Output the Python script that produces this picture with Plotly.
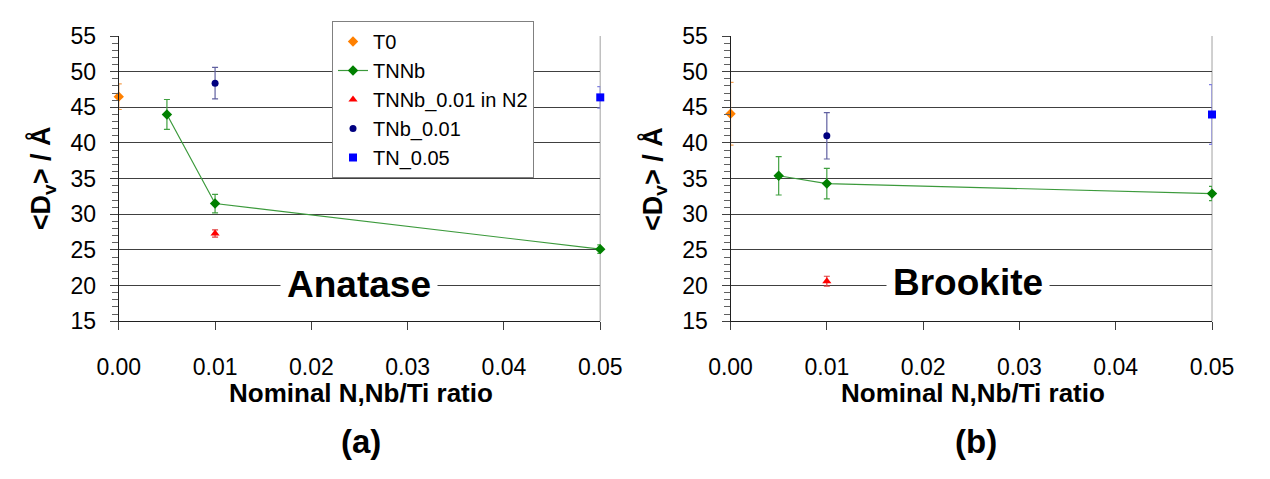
import plotly.graph_objects as go

# ---------------- data ----------------
x_t0 = [0.0]
x_tnnb = [0.005, 0.01, 0.05]
x_n2 = [0.01]
x_tnb = [0.01]
x_tn = [0.05]

# Anatase
t0_a = [46.5]; t0_a_err = [1.8]
tnnb_a = [44.0, 31.5, 25.1]; tnnb_a_err = [2.1, 1.3, 0.6]
n2_a = [27.3]; n2_a_err = [0.5]
tnb_a = [48.4]; tnb_a_err = [2.2]
tn_a = [46.4]; tn_a_err = [1.5]

# Brookite
t0_b = [44.1]; t0_b_err = [4.4]
tnnb_b = [35.4, 34.3, 32.9]; tnnb_b_err = [2.7, 2.15, 1.0]
n2_b = [20.6]; n2_b_err = [0.7]
tnb_b = [41.0]; tnb_b_err = [3.25]
tn_b = [44.0]; tn_b_err = [4.2]

x_ticks = [0.0, 0.01, 0.02, 0.03, 0.04, 0.05]
x_ticklabels = ["0.00", "0.01", "0.02", "0.03", "0.04", "0.05"]
y_ticks = [15, 20, 25, 30, 35, 40, 45, 50, 55]

FONT = "Liberation Sans, Arial, sans-serif"
# the page body has an 8px default margin: size the figure so the page is exactly 1270x479
OFF = 8
W, H = 1270 - 2 * OFF, 479 - 2 * OFF

def px(x):  # screen x -> paper fraction
    return (x - OFF) / W

def py(y):  # screen y -> paper fraction
    return 1 - (y - OFF) / H

series = [
    ("T0", x_t0, t0_a, t0_a_err, t0_b, t0_b_err, "diamond", "#FF8000", "#F5A050", "markers", 8),
    ("TNNb", x_tnnb, tnnb_a, tnnb_a_err, tnnb_b, tnnb_b_err, "diamond", "#008000", "#40A040", "lines+markers", 8),
    ("TNNb_0.01 in N2", x_n2, n2_a, n2_a_err, n2_b, n2_b_err, "triangle-up", "#FF0000", "#E04040", "markers", 8),
    ("TNb_0.01", x_tnb, tnb_a, tnb_a_err, tnb_b, tnb_b_err, "circle", "#000080", "#6060A0", "markers", 7),
    ("TN_0.05", x_tn, tn_a, tn_a_err, tn_b, tn_b_err, "square", "#0000FF", "#8080E0", "markers", 8),
]

fig = go.Figure()
for (name, xs, ya, ea, yb, eb, sym, col, ecol, mode, size) in series:
    for panel, (ys, es) in enumerate([(ya, ea), (yb, eb)]):
        fig.add_trace(go.Scatter(
            x=xs, y=ys, name=name, mode=mode,
            xaxis="x" if panel == 0 else "x2",
            yaxis="y" if panel == 0 else "y2",
            marker=dict(symbol=sym, color=col, size=size, line=dict(width=0)),
            line=dict(color="#3C9A3C", width=1.2),
            error_y=dict(type="data", array=es, visible=True, color=ecol,
                         thickness=1.2, width=3),
            showlegend=(panel == 0), cliponaxis=False,
        ))

pl_left = (100, 599)
pl_right = (734, 1233)
y_top, y_bot = 24, 326
ydom = [py(y_bot), py(y_top)]

def xaxis(dom):
    return dict(domain=[px(dom[0]), px(dom[1])], range=[0, 0.05],
                tickvals=x_ticks, ticktext=x_ticklabels,
                showgrid=False, zeroline=False, showline=True,
                linecolor="#202020", linewidth=1,
                ticks="outside", ticklen=8, tickcolor="#404040",
                tickfont=dict(family=FONT, size=23, color="black"),
                ticklabelstandoff=17)

def yaxis(anchor):
    return dict(domain=ydom, range=[15, 55], tickvals=y_ticks, anchor=anchor,
                showgrid=True, gridcolor="#404040", gridwidth=1,
                zeroline=False, showline=True, linecolor="#202020", linewidth=1,
                ticks="outside", ticklen=8, tickcolor="#404040",
                minor=dict(dtick=1, ticks="outside", ticklen=6,
                           tickcolor="#606060", showgrid=False),
                tickfont=dict(family=FONT, size=23, color="black"),
                ticklabelstandoff=9)

fig.update_layout(
    width=W, height=H,
    margin=dict(l=0, r=0, t=0, b=0),
    paper_bgcolor="white", plot_bgcolor="white",
    xaxis=dict(**xaxis(pl_left), anchor="y"),
    yaxis=yaxis("x"),
    xaxis2=dict(**xaxis(pl_right), anchor="y2"),
    yaxis2=yaxis("x2"),
    showlegend=True,
    legend=dict(x=px(321), y=1, xanchor="left", yanchor="top",
                bgcolor="white", bordercolor="#808080", borderwidth=1,
                font=dict(family=FONT, size=20, color="black"),
                tracegroupgap=0, itemwidth=30),
)

for xr, yr in [("x domain", "y domain"), ("x2 domain", "y2 domain")]:
    fig.add_shape(type="line", xref=xr, yref=yr, x0=1, x1=1, y0=0, y1=1,
                  line=dict(color="#C0C0C0", width=1.5), layer="below")

ann = []
C = dict(xanchor="center", yanchor="middle", showarrow=False)
ann.append(dict(text="<b>Anatase</b>", xref="x domain", yref="y", x=0.498, y=20.1,
                bgcolor="white", borderpad=6, **C,
                font=dict(family=FONT, size=37, color="black")))
ann.append(dict(text="<b>Brookite</b>", xref="x2 domain", yref="y2", x=0.494, y=20.4,
                bgcolor="white", borderpad=6, **C,
                font=dict(family=FONT, size=37, color="black")))
for cx in [351, 985]:
    ann.append(dict(text="<b>Nominal N,Nb/Ti ratio</b>", xref="paper", yref="paper",
                    x=px(cx), y=py(402), **C,
                    font=dict(family=FONT, size=26, color="black")))
for cx in [21, 655]:
    ann.append(dict(text="<b>&lt;D<sub>v</sub>&gt; / Å</b>", xref="paper", yref="paper",
                    x=px(cx), y=py(175), textangle=-90, **C,
                    font=dict(family=FONT, size=27, color="black")))
for txt, cx in [("(a)", 351), ("(b)", 988)]:
    ann.append(dict(text=f"<b>{txt}</b>", xref="paper", yref="paper",
                    x=px(cx), y=py(454), **C,
                    font=dict(family=FONT, size=33, color="black")))
fig.update_layout(annotations=ann)

fig.write_html("out.html")
